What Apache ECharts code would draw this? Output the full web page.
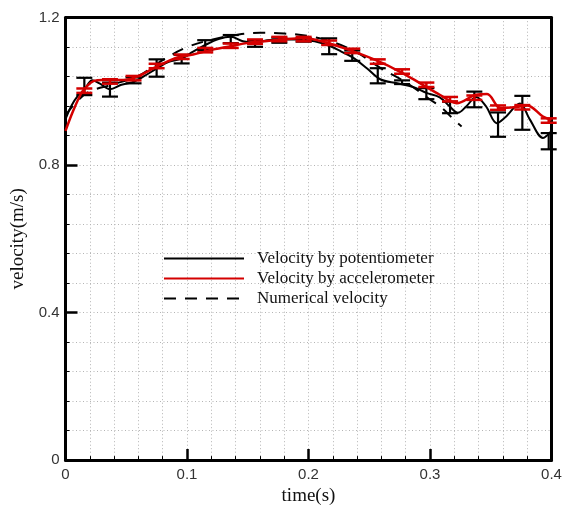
<!DOCTYPE html>
<html><head><meta charset="utf-8">
<script src="https://cdn.jsdelivr.net/npm/echarts@6/dist/echarts.min.js"></script>
<style>html,body{margin:0;padding:0;background:#fff}#c{width:570px;height:511px}</style>
</head><body><div id="c"></div>
<script>
// Velocity by potentiometer (continuous curve) [t, v]
const potT = [0,0.005,0.010,0.0155,0.022,0.028,0.0366,0.046,0.056,0.065,0.075,0.085,0.096,0.105,0.115,0.126,0.136,0.146,0.156,0.166,0.176,0.19,0.205,0.217,0.227,0.236,0.248,0.259,0.273,0.286,0.297,0.308,0.316,0.323,0.330,0.338,0.346,0.355,0.362,0.374,0.382,0.393,0.400];
const potV = [0.925,0.962,0.987,1.005,1.030,1.022,1.006,1.018,1.026,1.042,1.062,1.080,1.090,1.108,1.126,1.142,1.148,1.136,1.132,1.139,1.141,1.141,1.136,1.124,1.108,1.093,1.063,1.033,1.022,1.012,0.996,0.984,0.960,0.942,0.960,0.985,0.960,0.914,0.930,0.967,0.925,0.874,0.893];
// Velocity by accelerometer (continuous curve)
const accT = [0,0.006,0.013,0.017,0.023,0.031,0.037,0.05,0.059,0.075,0.092,0.105,0.119,0.135,0.149,0.166,0.182,0.196,0.215,0.234,0.256,0.275,0.292,0.308,0.322,0.338,0.347,0.358,0.374,0.38,0.393,0.4];
const accV = [0.893,0.945,0.995,1.012,1.028,1.031,1.031,1.032,1.040,1.067,1.092,1.100,1.112,1.122,1.131,1.137,1.142,1.144,1.132,1.112,1.084,1.054,1.022,0.991,0.968,0.991,0.993,0.955,0.959,0.962,0.932,0.923];
// Numerical velocity
const numT = [0,0.01,0.02,0.04,0.06,0.08,0.10,0.12,0.14,0.16,0.18,0.20,0.22,0.24,0.26,0.28,0.30,0.31,0.32,0.326];
const numV = [0.935,0.975,1.000,1.020,1.042,1.085,1.120,1.140,1.153,1.159,1.157,1.150,1.134,1.105,1.062,1.025,0.978,0.955,0.922,0.905];
// Measurement points (error bars)
const barT   = [0.0155,0.0366,0.056,0.075,0.0956,0.115,0.136,0.156,0.176,0.196,0.217,0.236,0.257,0.277,0.297,0.3165,0.3365,0.356,0.376,0.3977];
const potLo  = [0.990,0.986,1.022,1.040,1.076,1.112,1.131,1.121,1.132,1.135,1.101,1.083,1.022,1.020,0.979,0.941,0.957,0.877,0.896,0.843];
const potHi  = [1.037,1.024,1.038,1.087,1.099,1.139,1.153,1.139,1.146,1.145,1.144,1.111,1.063,1.030,1.009,0.972,0.9995,0.943,0.988,0.887];
const accMid = [1.002,1.027,1.036,1.069,1.094,1.112,1.124,1.135,1.142,1.142,1.132,1.110,1.081,1.054,1.018,0.979,0.983,0.956,0.957,0.921];
const accErr = 0.006;
const xTicks = [0,0.1,0.2,0.3,0.4];
const yTicks = [0,0.4,0.8,1.2];

const zip = (a,b) => a.map((v,i)=>[v,b[i]]);
const potBars = barT.map((t,i)=>[t,potLo[i],potHi[i]]);
const accBars = barT.map((t,i)=>[t,accMid[i]-accErr,accMid[i]+accErr]);

function barRenderer(color, lw, hw){
  return function(params, api){
    const x = api.value(0), lo = api.value(1), hi = api.value(2);
    const a = api.coord([x, lo]), b = api.coord([x, hi]);
    const st = {stroke: color, lineWidth: lw};
    return {type:'group', children:[
      {type:'line', shape:{x1:a[0],y1:a[1],x2:b[0],y2:b[1]}, style:st},
      {type:'line', shape:{x1:a[0]-hw,y1:a[1],x2:a[0]+hw,y2:a[1]}, style:st},
      {type:'line', shape:{x1:b[0]-hw,y1:b[1],x2:b[0]+hw,y2:b[1]}, style:st}
    ]};
  };
}

const chart = echarts.init(document.getElementById('c'));
const dotted = {color:'#b4b4b4', type:[1,2.5], width:1};
const frameAxis = {axisLine:{show:true, onZero:false, lineStyle:{color:'#000', width:3}}, axisTick:{show:false}, axisLabel:{show:false}, splitLine:{show:false}};
chart.setOption({
  animation:false,
  backgroundColor:'#fff',
  grid:{left:65.5, right:18.5, top:17.7, bottom:50.5, show:false},
  legend:{
    orient:'vertical', left:158, top:245, itemWidth:80, itemHeight:14, itemGap:3,
    data:['Velocity by potentiometer','Velocity by accelerometer','Numerical velocity'],
    itemStyle:{opacity:0},
    textStyle:{fontFamily:'Liberation Serif', fontSize:17, color:'#111', padding:[0,0,0,8]},
    backgroundColor:'transparent'
  },
  xAxis:[{
    type:'value', min:0, max:0.4, interval:0.1,
    name:'time(s)', nameLocation:'middle', nameGap:21,
    nameTextStyle:{fontFamily:'Liberation Serif', fontSize:19, color:'#111'},
    axisLine:{onZero:false, lineStyle:{color:'#000', width:3}},
    axisTick:{inside:true, length:11, lineStyle:{color:'#000', width:2.5}},
    minorTick:{show:true, splitNumber:5, length:4, lineStyle:{color:'#000', width:1}},
    axisLabel:{fontFamily:'Liberation Sans', fontSize:15, color:'#333', margin:7,
      formatter:v=> xTicks.includes(+v.toFixed(2)) ? String(+v.toFixed(2)) : ''},
    splitLine:{show:true, lineStyle:dotted},
    minorSplitLine:{show:true, lineStyle:dotted}
  }, Object.assign({type:'value', min:0, max:0.4, position:'top'}, frameAxis)],
  yAxis:[{
    type:'value', min:0, max:1.2, interval:0.4,
    name:'velocity(m/s)', nameLocation:'middle', nameGap:29,
    nameTextStyle:{fontFamily:'Liberation Serif', fontSize:19, color:'#111'},
    axisLine:{onZero:false, lineStyle:{color:'#000', width:3}},
    axisTick:{inside:true, length:12, lineStyle:{color:'#000', width:2.5}},
    minorTick:{show:true, splitNumber:5, length:4, lineStyle:{color:'#000', width:1}},
    axisLabel:{fontFamily:'Liberation Sans', fontSize:15, color:'#333', margin:6,
      formatter:v=> yTicks.includes(+v.toFixed(2)) ? String(+v.toFixed(1)).replace(/^0\.0$/,'0') : ''},
    splitLine:{show:true, lineStyle:dotted},
    minorSplitLine:{show:true, lineStyle:dotted}
  }, Object.assign({type:'value', min:0, max:1.2, position:'right'}, frameAxis)],
  series:[
    {name:'Velocity by potentiometer', type:'line', data:zip(potT,potV), smooth:0.35, symbol:'none',
      lineStyle:{color:'#000', width:2}, itemStyle:{color:'#000'}, z:3},
    {name:'Numerical velocity', type:'line', data:zip(numT,numV), smooth:0.4, symbol:'none',
      lineStyle:{color:'#000', width:2, type:[12,9]}, itemStyle:{color:'#000'}, z:3},
    {name:'potBars', type:'custom', data:potBars, encode:{x:0,y:[1,2]},
      renderItem:barRenderer('#000',2.2,8), z:4},
    {name:'Velocity by accelerometer', type:'line', data:zip(accT,accV), smooth:0.35, symbol:'none',
      lineStyle:{color:'#d40000', width:2.5}, itemStyle:{color:'#d40000'}, z:5},
    {name:'accBars', type:'custom', data:accBars, encode:{x:0,y:[1,2]},
      renderItem:barRenderer('#d40000',2.5,8), z:6}
  ]
});
</script></body></html>
